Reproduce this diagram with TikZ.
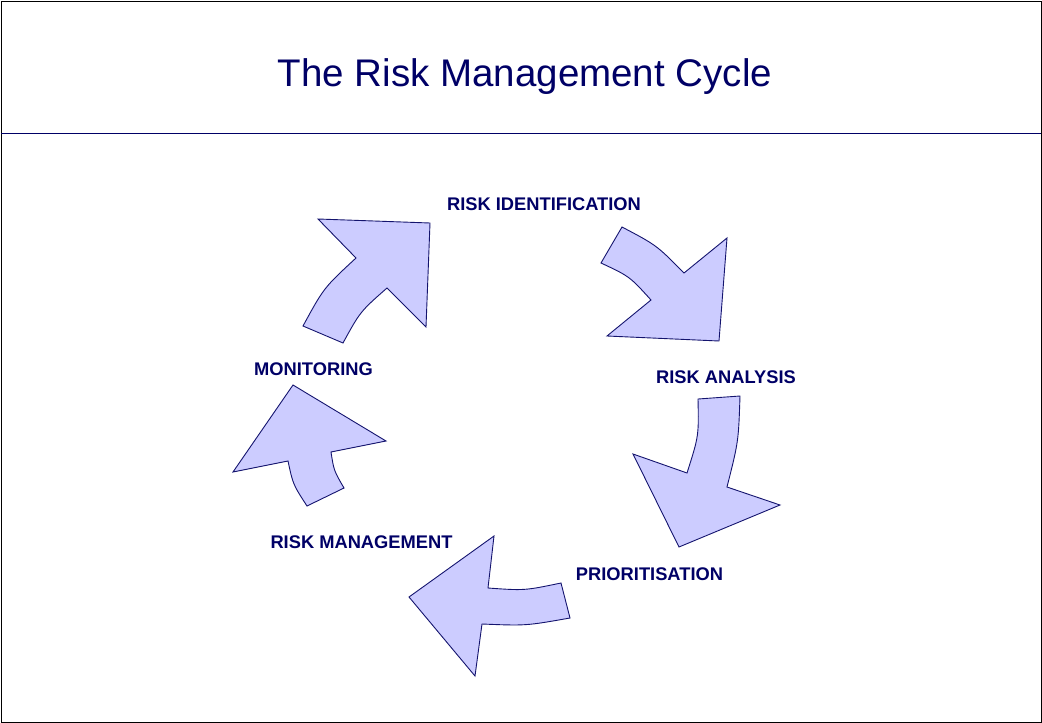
\documentclass[tikz,border=0pt]{standalone}
\usepackage{fontspec}
\setmainfont{Liberation Sans}
\definecolor{navy}{RGB}{0,0,102}
\definecolor{arrowfill}{RGB}{204,204,255}
\definecolor{arrowline}{RGB}{20,20,110}
\begin{document}
\begin{tikzpicture}[x=1pt,y=-1pt,
  cyclearrow/.style={fill=arrowfill,draw=arrowline,line width=0.9pt,line join=miter},
  steplabel/.style={anchor=base,inner sep=0pt,text=navy,font=\fontsize{18.3}{20}\selectfont\bfseries},
  titlelabel/.style={anchor=base,inner sep=0pt,text=navy,font=\fontsize{38.5}{44}\selectfont}]
\useasboundingbox (0,0) rectangle (1042,723);
\draw[black,line width=1pt] (1,1) rectangle (1041,722);
\draw[navy,line width=0.8pt] (1,133) -- (1041,133);
\node[titlelabel] (title) at (525,86) {The Risk Management Cycle};
% arrow 1: monitoring -> identification
\draw[cyclearrow] (303,326) -- (343,343) .. controls (360.2,311.6) .. (387,288) -- (426,327) -- (430,223) -- (318,219) -- (356,258) .. controls (323.8,287.8) .. (303,326) -- cycle;
% arrow 2: identification -> analysis
\draw[cyclearrow] (622,227) -- (601,263) .. controls (629.6,276.4) .. (651,300) -- (607,336) -- (719,341) -- (727,238) -- (684,273) .. controls (656.6,245.2) .. (622,227) -- cycle;
% arrow 3: analysis -> prioritisation
\draw[cyclearrow] (698,399) -- (740,396) .. controls (738.5,441.5) .. (727,487) -- (780,505) -- (679,547) -- (633,454) -- (687,473) .. controls (698.8,436) .. (698,399) -- cycle;
% arrow 4: prioritisation -> management
\draw[cyclearrow] (494,536) -- (488,588) .. controls (524.5,590.6) .. (561,583) -- (570,618) .. controls (526,625.8) .. (482,624) -- (475,676) -- (409,597) -- cycle;
% arrow 5: management -> monitoring
\draw[cyclearrow] (293,385) -- (386,441) -- (331,452) .. controls (333.9,470.6) .. (344,488) -- (307,506) .. controls (293,484.4) .. (288,461) -- (233,472) -- cycle;
\node[steplabel] (ident) at (544,210) {RISK IDENTIFICATION};
\node[steplabel] (analysis) at (726,383) {RISK ANALYSIS};
\node[steplabel] (prior) at (649.5,580) {PRIORITISATION};
\node[steplabel] (manage) at (361.5,548) {RISK MANAGEMENT};
\node[steplabel] (monitor) at (313.5,375) {MONITORING};
\end{tikzpicture}
\end{document}
